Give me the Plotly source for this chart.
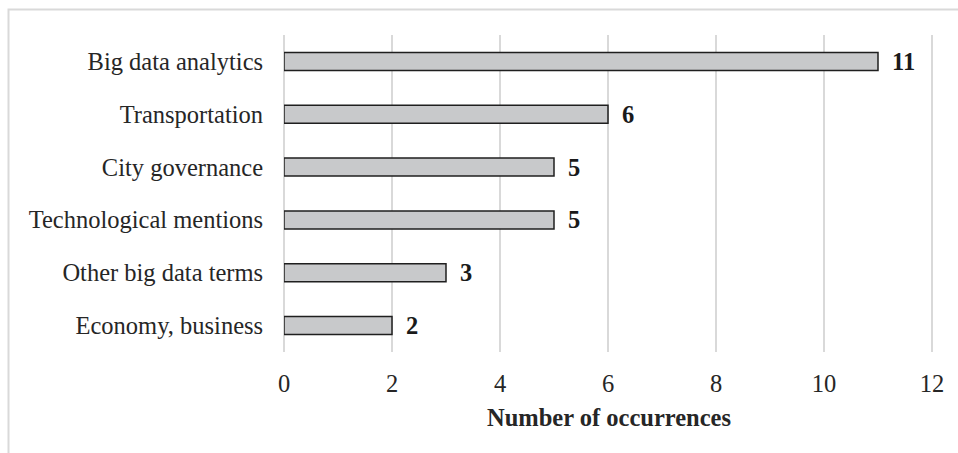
import plotly.graph_objects as go

categories = [
    "Big data analytics",
    "Transportation",
    "City governance",
    "Technological mentions",
    "Other big data terms",
    "Economy, business",
]
occurrences = [11, 6, 5, 5, 3, 2]
x_ticks = [0, 2, 4, 6, 8, 10, 12]

FONT = "Liberation Serif, Times New Roman, serif"
FS = 24.5

fig = go.Figure()
fig.add_trace(go.Bar(
    y=categories,
    x=occurrences,
    orientation="h",
    width=0.34,
    marker=dict(color="#c8c9cb", line=dict(color="#1f1f1f", width=1.5)),
    hoverinfo="skip",
))

for cat, val in zip(categories, occurrences):
    fig.add_annotation(
        x=val, y=cat, text=f"<b>{val}</b>", showarrow=False,
        xanchor="left", yanchor="middle", xshift=12,
        font=dict(family=FONT, size=FS, color="#1a1a1a"),
    )

# light frame around the whole chart
fig.add_shape(
    type="rect", xref="paper", yref="paper",
    x0=-284 / 650 + 8.5 / 650, x1=1.2, y0=-0.5, y1=1 + (35 - 9.5) / 317,
    line=dict(color="#d9d9d9", width=2), fillcolor="rgba(0,0,0,0)", layer="below",
)

fig.update_layout(
    width=958, height=453,
    margin=dict(l=284, r=24, t=35, b=101),
    paper_bgcolor="white", plot_bgcolor="white",
    showlegend=False,
    font=dict(family=FONT, size=FS, color="#262626"),
    xaxis=dict(
        range=[0, 12.037], tickvals=x_ticks, ticktext=[str(v) for v in x_ticks],
        showgrid=True, gridcolor="#d9d9d9", gridwidth=1.5,
        zeroline=True, zerolinecolor="#d9d9d9", zerolinewidth=1.5,
        showline=False,
        ticks="outside", ticklen=10, tickcolor="rgba(0,0,0,0)",
        tickfont=dict(family=FONT, size=FS, color="#262626"),
        title=dict(text="<b>Number of occurrences</b>", standoff=12,
                   font=dict(family=FONT, size=FS, color="#262626")),
        fixedrange=True,
    ),
    yaxis=dict(
        categoryorder="array", categoryarray=categories[::-1],
        showgrid=False, zeroline=False, showline=False,
        ticks="outside", ticklen=15, tickcolor="rgba(0,0,0,0)",
        tickfont=dict(family=FONT, size=FS, color="#262626"),
        fixedrange=True,
    ),
)

fig.write_html("out.html")
